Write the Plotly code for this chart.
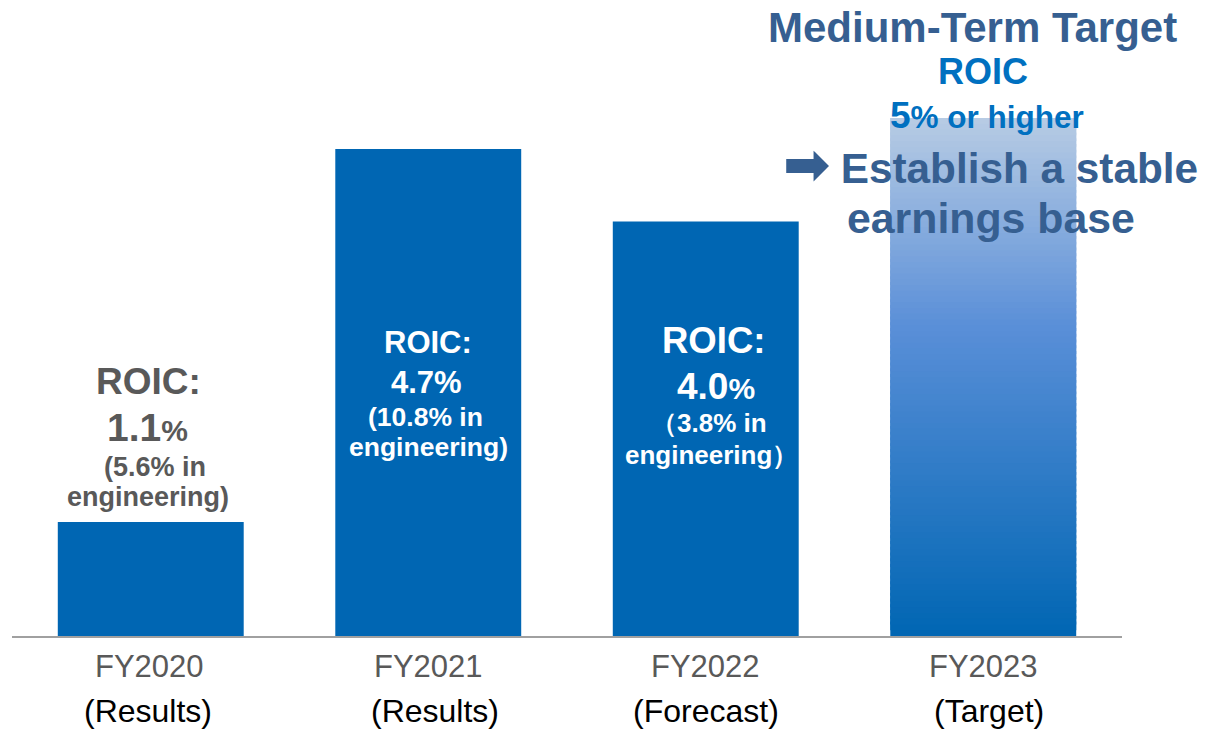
import plotly.graph_objects as go

# ---------------- data ----------------
categories = ["FY2020", "FY2021", "FY2022", "FY2023"]
period_labels = ["(Results)", "(Results)", "(Forecast)", "(Target)"]
roic_values = [1.1, 4.7, 4.0, 5.0]          # ROIC %, FY2023 = medium-term target
roic_text = ["1.1", "4.7", "4.0"]
engineering_text = ["5.6", "10.8", "3.8"]
target_lines = ["Medium-Term Target", "ROIC", "5", "% or higher",
                "➡", "Establish a stable", "earnings base"]

# ---------------- styling ----------------
FONT = "Liberation Sans, Arial, Helvetica, sans-serif"
BAR_COLOR = "#0066B3"
TITLE_COLOR = "#365F91"
ROIC_BLUE = "#0070C0"
GRAY = "#595959"
PLOT_H = 636.0           # pixel height of plot area (baseline y)
PX_PER_UNIT = 103.6


def paper_y(py):
    return (PLOT_H - py) / PLOT_H


def hex2rgb(h):
    h = h.lstrip("#")
    return [int(h[i:i + 2], 16) for i in (0, 2, 4)]


grad_stops = [(0.0, "#0066B3"), (0.6, "#5A8FD8"), (1.0, "#B8CCE4")]


def grad_color(f):
    for (f0, c0), (f1, c1) in zip(grad_stops[:-1], grad_stops[1:]):
        if f0 <= f <= f1:
            t = (f - f0) / (f1 - f0)
            a, b = hex2rgb(c0), hex2rgb(c1)
            return "rgb(%d,%d,%d)" % tuple(round(a[i] + (b[i] - a[i]) * t) for i in range(3))
    return grad_stops[-1][1]


fig = go.Figure()

# solid bars (results / forecast)
fig.add_trace(go.Bar(
    x=categories[:3], y=roic_values[:3], width=0.67,
    marker=dict(color=BAR_COLOR, line=dict(width=0)),
    hoverinfo="x+y", showlegend=False,
))

# gradient target bar, built from thin overlapping segments of the target value
N = 90
target = roic_values[3]
step = target / N
bases = [i * step for i in range(N)]
heights = [min(2.5 * step, target - b) for b in bases]
fig.add_trace(go.Bar(
    x=[categories[3]] * N, y=heights, base=bases, width=0.67,
    marker=dict(color=[grad_color((i + 0.5) / N) for i in range(N)], line=dict(width=0)),
    hoverinfo="skip", showlegend=False,
))

ann = []


def add(x, py, text, size, color, bold=True, xshift=0):
    ann.append(dict(x=x, y=paper_y(py), xref="x", yref="paper", text=text,
                    showarrow=False, xanchor="center", yanchor="middle", xshift=xshift,
                    font=dict(family=FONT, size=size, color=color,
                              weight="bold" if bold else "normal")))


# axis labels
for i, c in enumerate(categories):
    add(c, 666, c, 31, GRAY, bold=False, xshift=[-1, 0, 0, 0][i])
    add(c, 711, period_labels[i], 32, "#000000", bold=False, xshift=[-3, 7, 0, 6][i])

# FY2020 label (above bar, gray)
c = categories[0]
add(c, 381, "ROIC:", 37, GRAY, xshift=-2)
add(c, 427, roic_text[0] + "<span style='font-size:30px'>%</span>", 39, GRAY, xshift=-3)
add(c, 467, "(" + engineering_text[0] + "% in", 27, GRAY, xshift=4)
add(c, 497, "engineering)", 27, GRAY, xshift=-3)

# FY2021 label (inside bar, white)
c = categories[1]
add(c, 343, "ROIC:", 31, "white")
add(c, 382, roic_text[1] + "%", 31, "white", xshift=-2)
add(c, 417, "(" + engineering_text[1] + "% in", 26.5, "white", xshift=-3)
add(c, 447, "engineering)", 26.5, "white")

# FY2022 label (inside bar, white)
c = categories[2]
add(c, 340, "ROIC:", 36.5, "white", xshift=8)
add(c, 386, roic_text[2] + "<span style='font-size:30px'>%</span>", 37, "white", xshift=10)
add(c, 423, "（" + engineering_text[2] + "% in", 26, "white", xshift=3)
add(c, 455, "engineering）", 26, "white", xshift=6)

# target annotations
c = categories[3]
add(c, 28, target_lines[0], 42, TITLE_COLOR, xshift=-11)
add(c, 72, target_lines[1], 36, ROIC_BLUE)
add(c, 116, target_lines[2] + "<span style='font-size:31.5px'>" + target_lines[3] + "</span>",
    37, ROIC_BLUE, xshift=4)
add(c, 164, "<span style='font-size:54px'>" + target_lines[4] + "</span> " + target_lines[5],
    42.3, TITLE_COLOR, xshift=8)
add(c, 218, target_lines[6], 42.8, TITLE_COLOR, xshift=8)

fig.update_layout(
    width=1217, height=730,
    margin=dict(l=12, r=95, t=0, b=94),
    paper_bgcolor="white", plot_bgcolor="white",
    barmode="overlay",
    showlegend=False,
    annotations=ann,
    xaxis=dict(type="category", categoryorder="array", categoryarray=categories,
               range=[-0.5, 3.5], showticklabels=False, ticks="", showgrid=False,
               zeroline=False, showline=True, linecolor="#A0A0A0", linewidth=2,
               fixedrange=True),
    yaxis=dict(range=[0, PLOT_H / PX_PER_UNIT], visible=False, showgrid=False,
               zeroline=False, fixedrange=True),
)

fig.write_html(
    "out.html",
    config={"displayModeBar": False},
    post_script="document.body.style.margin='0';document.body.style.overflow='hidden';",
)
